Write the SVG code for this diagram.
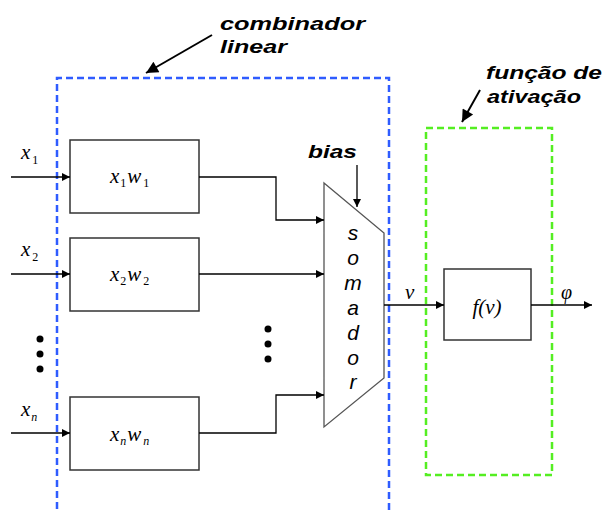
<svg xmlns="http://www.w3.org/2000/svg" width="605" height="513" viewBox="0 0 605 513">
<defs>
<marker id="ah" viewBox="0 0 10 10" refX="10" refY="5" markerWidth="11" markerHeight="8" markerUnits="userSpaceOnUse" orient="auto"><path d="M0,0 L10,5 L0,10 z" fill="#000"/></marker>
<marker id="ahb" viewBox="0 0 10 10" refX="10" refY="5" markerWidth="16" markerHeight="12" markerUnits="userSpaceOnUse" orient="auto"><path d="M0,0 L10,5 L0,10 z" fill="#000"/></marker>
</defs>
<style>
.bx{fill:#fff;stroke:#333;stroke-width:1.5}
.ln{fill:none;stroke:#000;stroke-width:1.3}
.m{font-family:"Liberation Serif","Times New Roman",serif;font-style:italic;fill:#000}
.s{font-style:normal;font-size:12px}
.si{font-style:italic;font-size:12px}
.lab{font-family:"Liberation Sans",Arial,sans-serif;font-style:italic;font-weight:bold;font-size:19px;fill:#000}
.som{font-family:"Liberation Sans",Arial,sans-serif;font-style:italic;font-size:21px;fill:#000;text-anchor:middle}
</style>
<rect width="605" height="513" fill="#fff"/>
<g id="combinador">
<path d="M57,520 V78 H389 V520" fill="none" stroke="#2f5cff" stroke-width="2.5" stroke-dasharray="7,4"/>
<text class="lab" x="220" y="30" textLength="145" lengthAdjust="spacingAndGlyphs">combinador</text>
<text class="lab" x="220" y="53" textLength="67" lengthAdjust="spacingAndGlyphs">linear</text>
</g>
<g id="ativacao">
<rect x="426" y="128" width="126" height="347" fill="none" stroke="#55ee22" stroke-width="2.5" stroke-dasharray="7,4"/>
<text class="lab" x="486" y="79" textLength="116" lengthAdjust="spacingAndGlyphs">função de</text>
<text class="lab" x="487" y="103" textLength="94" lengthAdjust="spacingAndGlyphs">ativação</text>
</g>
<g id="box1">
<rect class="bx" x="70" y="140" width="129" height="73"/>
<text class="m" x="110" y="183" font-size="21">x<tspan class="s" dx="1" dy="4">1</tspan><tspan dx="1" dy="-4">w</tspan><tspan class="s" dx="2" dy="4">1</tspan></text>
</g>
<g id="box2">
<rect class="bx" x="70" y="238" width="129" height="73"/>
<text class="m" x="110" y="281" font-size="21">x<tspan class="s" dx="1" dy="4">2</tspan><tspan dx="1" dy="-4">w</tspan><tspan class="s" dx="2" dy="4">2</tspan></text>
</g>
<g id="boxn">
<rect class="bx" x="70" y="397" width="129" height="73"/>
<text class="m" x="110" y="441" font-size="21">x<tspan class="si" dx="1" dy="4">n</tspan><tspan dx="1" dy="-4">w</tspan><tspan class="si" dx="2" dy="4">n</tspan></text>
</g>
<g id="somador">
<polygon points="324,183 384,233 384,378 324,427" fill="#fff" stroke="#555" stroke-width="1.3"/>
<text class="som" x="353" y="240">s</text>
<text class="som" x="353" y="265">o</text>
<text class="som" x="353" y="290">m</text>
<text class="som" x="353" y="315">a</text>
<text class="som" x="353" y="340">d</text>
<text class="som" x="353" y="365">o</text>
<text class="som" x="353" y="389">r</text>
</g>
<g id="fv">
<rect class="bx" x="444" y="269" width="87" height="71"/>
<text class="m" x="487" y="314" font-size="21" text-anchor="middle">f(v)</text>
</g>
<g id="labels">
<text class="m" x="21" y="159" font-size="21">x<tspan class="s" dx="2" dy="5">1</tspan></text>
<text class="m" x="21" y="256" font-size="21">x<tspan class="s" dx="2" dy="5">2</tspan></text>
<text class="m" x="21" y="416" font-size="21">x<tspan class="si" dx="1" dy="5">n</tspan></text>
<text class="lab" x="308" y="158" textLength="49" lengthAdjust="spacingAndGlyphs">bias</text>
<text class="m" x="405" y="299" font-size="21">v</text>
<text class="m" x="561" y="299" font-size="20">φ</text>
<circle cx="40" cy="339" r="3.5"/><circle cx="40" cy="354" r="3.5"/><circle cx="40" cy="369" r="3.5"/>
<circle cx="268" cy="329" r="3.5"/><circle cx="268" cy="344" r="3.5"/><circle cx="268" cy="359" r="3.5"/>
</g>
<g id="connectors">
<line class="ln" x1="11" y1="177" x2="70" y2="177" marker-end="url(#ah)"/>
<line class="ln" x1="11" y1="274" x2="70" y2="274" marker-end="url(#ah)"/>
<line class="ln" x1="11" y1="433" x2="70" y2="433" marker-end="url(#ah)"/>
<path class="ln" d="M199,177 H276 V220 H324" marker-end="url(#ah)"/>
<line class="ln" x1="199" y1="274" x2="324" y2="274" marker-end="url(#ah)"/>
<path class="ln" d="M199,433 H276 V395 H324" marker-end="url(#ah)"/>
<line class="ln" x1="357" y1="165" x2="357" y2="207" marker-end="url(#ah)"/>
<line class="ln" x1="384" y1="305" x2="444" y2="305" marker-end="url(#ah)"/>
<line class="ln" x1="531" y1="305" x2="592" y2="305" marker-end="url(#ah)"/>
<line x1="212" y1="35" x2="146" y2="73" stroke="#000" stroke-width="2" marker-end="url(#ahb)"/>
<line x1="480" y1="90" x2="462" y2="122" stroke="#000" stroke-width="2" marker-end="url(#ahb)"/>
</g>
</svg>
